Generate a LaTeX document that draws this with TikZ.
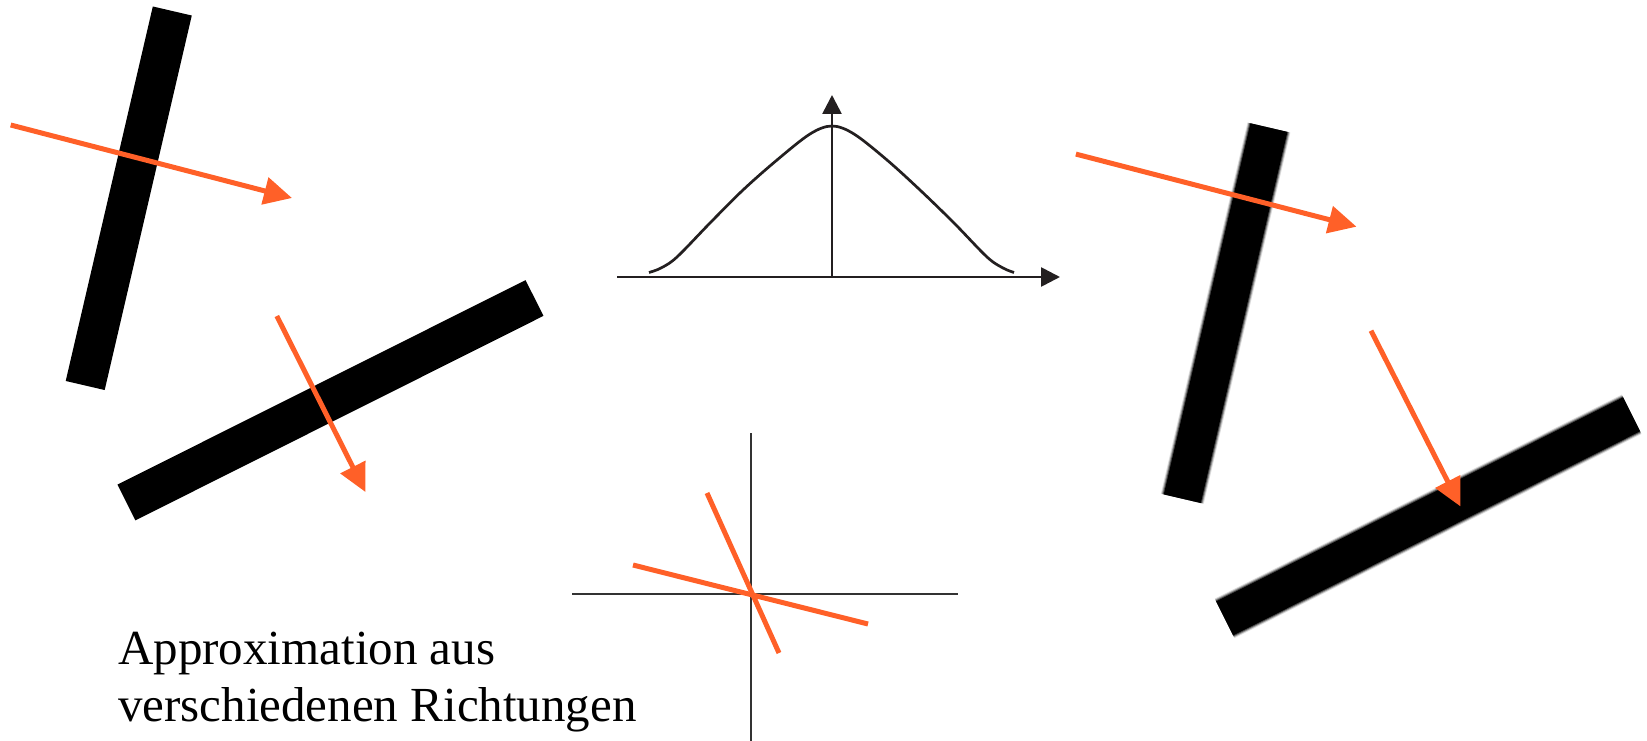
\documentclass[tikz,border=0pt]{standalone}
\usepackage{fontspec}
\setmainfont{Liberation Serif}
\usetikzlibrary{arrows.meta}
\definecolor{orng}{RGB}{255,96,40}
\definecolor{axisblk}{RGB}{35,31,32}
\tikzset{
  bar/.style={line width=40pt, black, line cap=butt},
  blurbar/.style={line width=#1, black, line cap=butt},
  oarrow/.style={line width=5pt, orng, -{Triangle[length=28pt,width=27pt]}},
  oline/.style={line width=5pt, orng},
  gaxis/.style={line width=2.7pt, axisblk, -{Triangle[length=19pt,width=19pt]}},
  gcurve/.style={line width=2.7pt, axisblk},
  caxis/.style={line width=1.3pt, black!80},
  caption/.style={font=\fontsize{49}{59}\selectfont, anchor=base west, inner sep=0pt}
}
\begin{document}
\begin{tikzpicture}[x=1pt,y=-1pt]
\useasboundingbox (0,0) rectangle (1647,741);
% --- left: sharp bars
\coordinate (b1a) at (172.3,11);   \coordinate (b1b) at (85.2,385.5);
\coordinate (b2a) at (126.4,502.5); \coordinate (b2b) at (534.5,298);
\draw[bar] (b1a) -- (b1b);
\draw[bar] (b2a) -- (b2b);
\coordinate (a1s) at (10.7,125);   \coordinate (a1e) at (292,198);
\coordinate (a2s) at (276.8,316);  \coordinate (a2e) at (365.4,492);
\draw[oarrow] (a1s) -- (a1e);
\draw[oarrow] (a2s) -- (a2e);
% --- middle top: Gaussian
\coordinate (gx0) at (617,277); \coordinate (gx1) at (1060,277);
\coordinate (gy0) at (832,277); \coordinate (gy1) at (832,95);
\draw[gaxis] (gx0) -- (gx1);
\draw[gaxis] (gy0) -- (gy1);
\draw[gcurve] plot[smooth, tension=0.55] coordinates {(649,272.5) (661,268) (677,257) (710,223) (743,190) (777,160) (810,134) (832,126) (854,134) (887,160) (920,190) (954,223) (987,257) (1003,268) (1014,272.5)};
% --- right: blurred bars
\coordinate (b3a) at (1268.9,127.6); \coordinate (b3b) at (1182.3,498.7);
\coordinate (b4a) at (1224.6,618.4); \coordinate (b4b) at (1631.6,414.3);
\foreach \w/\o in {44pt/0.15, 42pt/0.3, 40pt/0.5, 38pt/1} {
  \draw[blurbar=\w, opacity=\o] (b3a) -- (b3b);
  \draw[blurbar=\w, opacity=\o] (b4a) -- (b4b);
}
\coordinate (a3s) at (1075.9,154.1);  \coordinate (a3e) at (1356.5,226.7);
\coordinate (a4s) at (1371,330.7);    \coordinate (a4e) at (1460.4,506.4);
\draw[oarrow] (a3s) -- (a3e);
\draw[oarrow] (a4s) -- (a4e);
% --- middle bottom: cross
\coordinate (ch0) at (572,594); \coordinate (ch1) at (958,594);
\coordinate (cv0) at (751,433); \coordinate (cv1) at (751,741);
\draw[caxis] (ch0) -- (ch1);
\draw[caxis] (cv0) -- (cv1);
\coordinate (l1a) at (633,565); \coordinate (l1b) at (868,624);
\coordinate (l2a) at (707,493); \coordinate (l2b) at (779,653);
\draw[oline] (l1a) -- (l1b);
\draw[oline] (l2a) -- (l2b);
% --- caption
\node[caption] (cap1) at (118,664) {Approximation aus};
\node[caption] (cap2) at (118,721) {verschiedenen Richtungen};
\end{tikzpicture}
\end{document}
